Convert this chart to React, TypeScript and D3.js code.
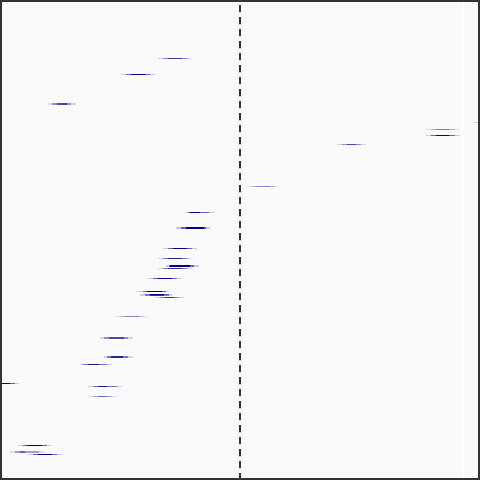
import React from 'react';
import { scaleLinear } from 'd3';

// one row per interval, bands nested from outer to inner
const rowY = [5.85, 7.45, 10.35, 10.45, 12.25, 12.95, 13.55, 14.45, 18.65, 21.25, 22.75, 22.85, 24.85, 25.85, 26.55, 26.65, 26.85, 27.85, 29.15, 29.45, 29.55, 29.75, 31.65, 33.75, 33.85, 35.65, 35.75, 36.45, 38.35, 38.65, 39.65, 44.55, 45.15, 45.25, 45.45];
const outerLo = [-0.82, -1.19, -1.92, -1.92, 2.34, 1.86, 1.86, 0.97, 0.06, -0.55, -0.64, -0.64, -0.77, -0.82, -0.74, -0.74, -0.82, -0.92, -1.02, -1.0, -1.0, -0.85, -1.25, -1.4, -1.4, -1.36, -1.36, -1.6, -2.54, -1.52, -1.52, -2.22, -2.3, -2.3, -2.12];
const midLo = [-0.77, -1.14, -1.88, -1.88, 2.39, 1.91, 1.91, 1.02, 0.11, -0.52, -0.59, -0.59, -0.72, -0.77, -0.71, -0.71, -0.77, -0.87, -0.97, -0.95, -0.95, -0.8, -1.2, -1.36, -1.36, -1.33, -1.33, -1.57, -2.49, -1.47, -1.47, -2.17, -2.25, -2.25, -2.07];
const innerLo = [-0.72, -1.09, -1.83, -1.83, 2.44, 1.96, 1.96, 1.07, 0.16, -0.5, -0.54, -0.54, -0.67, -0.72, -0.7, -0.7, -0.72, -0.82, -0.93, -0.9, -0.9, -0.75, -1.15, -1.31, -1.31, -1.29, -1.29, -1.52, -2.45, -1.42, -1.42, -2.13, -2.2, -2.2, -2.02];
const innerHi = [-0.58, -0.95, -1.73, -1.73, 2.58, 2.1, 2.09, 1.16, 0.3, -0.4, -0.36, -0.36, -0.53, -0.58, -0.5, -0.5, -0.58, -0.68, -0.78, -0.76, -0.76, -0.66, -1.01, -1.16, -1.16, -1.17, -1.17, -1.41, -2.3, -1.33, -1.33, -1.98, -2.15, -2.15, -1.88];
const midHi = [-0.53, -0.9, -1.69, -1.69, 2.63, 2.15, 2.15, 1.21, 0.35, -0.31, -0.34, -0.34, -0.48, -0.53, -0.46, -0.46, -0.53, -0.63, -0.74, -0.71, -0.71, -0.61, -0.96, -1.12, -1.12, -1.12, -1.12, -1.33, -2.25, -1.23, -1.28, -1.93, -2.01, -2.01, -1.83];
const outerHi = [-0.49, -0.85, -1.64, -1.64, 2.68, 2.2, 2.2, 1.26, 0.39, -0.26, -0.3, -0.3, -0.43, -0.49, -0.41, -0.41, -0.49, -0.59, -0.71, -0.68, -0.68, -0.56, -0.92, -1.07, -1.07, -1.07, -1.07, -1.28, -2.21, -1.18, -1.23, -1.89, -1.96, -1.96, -1.78];
const rowWeight = [0.75, 1, 0.7, 0.7, 0.9, 0.5, 1, 0.7, 0.45, 1, 1, 1, 1, 0.85, 1, 1, 0.8, 1, 1, 1, 0.8, 0.8, 0.45, 0.7, 0.7, 0.85, 0.85, 0.9, 1, 0.9, 0.55, 1, 0.6, 0.6, 1];
const refLine = 0;
const gridLine = 2.235;

const W = 480;
const H = 480;
const navy = '#000080';
const bandAlpha = [0.2, 0.6, 1];

// opacity for a layer so that stacked result reaches target
function layerAlpha(target: number, prev: number) {
  if (target >= 1) return 1;
  return 1 - (1 - target) / (1 - prev);
}

export default function App() {
  const x = scaleLinear().domain([-2.4, 2.4]).range([0, W]);
  const y = scaleLinear().domain([0, 48]).range([0, H]);

  return (
    <svg width={W} height={H} style={{ position: 'absolute', left: 0, top: 0, display: 'block' }}>
      <defs>
        <clipPath id="plot">
          <rect x={0} y={0} width={W} height={H} />
        </clipPath>
      </defs>
      <rect x={0} y={0} width={W} height={H} fill="#fafafa" />
      <line x1={x(gridLine)} x2={x(gridLine)} y1={0} y2={H} stroke="#ffffff" strokeWidth={1} />
      <g clipPath="url(#plot)">
        {rowY.map((v, i) => {
          const w = rowWeight[i];
          const a0 = bandAlpha[0] * w;
          const t1 = bandAlpha[1] * w;
          const a1 = layerAlpha(t1, a0);
          const a2 = layerAlpha(bandAlpha[2] * w, t1);
          const yy = y(v);
          return (
            <g key={i}>
              <line x1={x(outerLo[i])} x2={x(outerHi[i])} y1={yy} y2={yy} stroke={navy} strokeOpacity={a0} strokeWidth={1} />
              <line x1={x(midLo[i])} x2={x(midHi[i])} y1={yy} y2={yy} stroke={navy} strokeOpacity={a1} strokeWidth={1} />
              <line x1={x(innerLo[i])} x2={x(innerHi[i])} y1={yy} y2={yy} stroke={navy} strokeOpacity={a2} strokeWidth={1} />
            </g>
          );
        })}
      </g>
      <line
        x1={x(refLine)}
        x2={x(refLine)}
        y1={0}
        y2={H}
        stroke="#333"
        strokeWidth={2}
        strokeDasharray="7.3 4.7"
        strokeDashoffset={7}
      />
      <rect x={1} y={1} width={W - 2} height={H - 2} fill="none" stroke="#333" strokeWidth={2} />
    </svg>
  );
}
